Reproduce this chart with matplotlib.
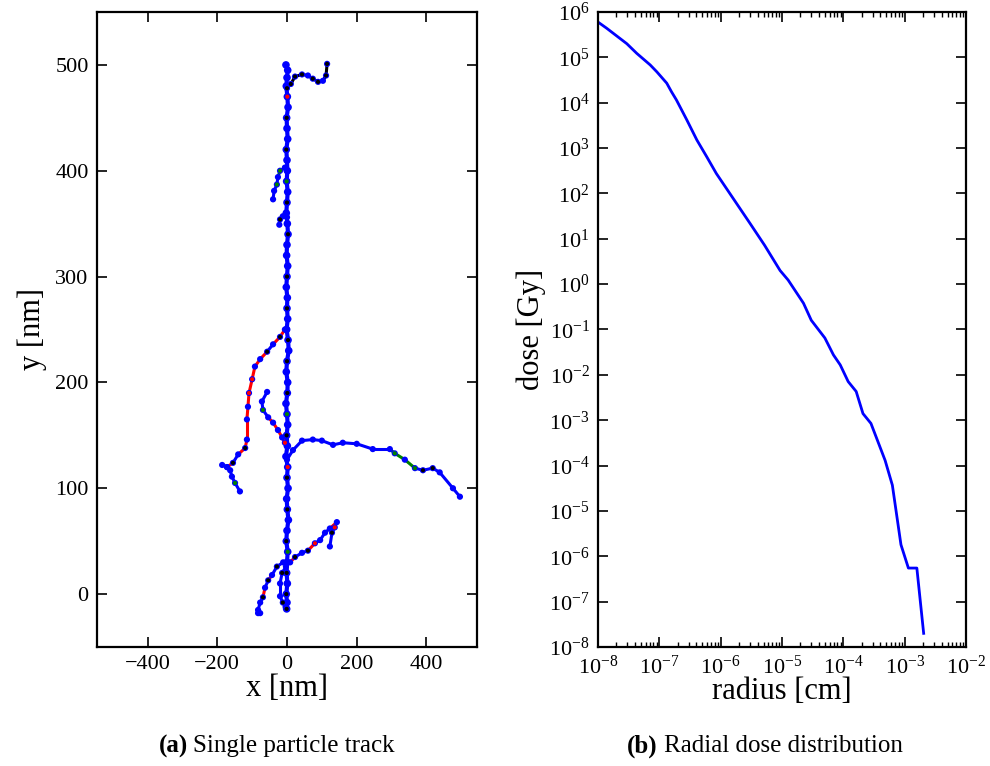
import matplotlib
matplotlib.use("Agg")
import matplotlib.pyplot as plt
from matplotlib.ticker import LogLocator, NullLocator, FixedLocator

plt.rcParams['font.family'] = 'serif'
plt.rcParams['font.serif'] = ['Liberation Serif', 'DejaVu Serif']
plt.rcParams['mathtext.fontset'] = 'custom'
plt.rcParams['mathtext.rm'] = 'Liberation Serif'
plt.rcParams['mathtext.it'] = 'Liberation Serif:italic'
plt.rcParams['mathtext.bf'] = 'Liberation Serif:bold'

# ---------------- data: (a) single particle track (nm) ----------------
main_x = [-3, 2, 0, -2, 1, 3, -1, 0, 2, -2, 0, 1, -1, 2, 0, -2, 1, 3, 0, -1,
          2, 0, -2, 1, 0, 2, -1, 3, 5, 0, -2, 2, 1, -3, 0, 2, -1, 1, -3, 2,
          0, 3, -1, 1, 4, 0, -2, 2, 0, -1, 1, -2, 0, -1]
main_y = [500, 495, 488, 480, 470, 460, 450, 440, 430, 420, 410, 400, 390, 380,
          370, 360, 350, 340, 330, 320, 310, 300, 290, 280, 270, 260, 250, 240,
          230, 220, 210, 200, 190, 180, 170, 160, 150, 140, 130, 120, 110, 100,
          90, 80, 70, 60, 50, 40, 30, 20, 10, 0, -8, -14]
main_mk = "bbbbrbkbbkbbgbkbbkbbbkbbkbbkbkbbkbgbkbbrkbbkbbkgbkbkbk"
main_seg = "b" * 53

br1_x = [0, 11, 23, 43, 60, 74, 89, 103, 112, 115]
br1_y = [478, 482, 489, 491, 490, 487, 484, 485, 490, 501]
br1_seg = "kkkkkkkkk"
br1_mk = "kkkkbkkbkk"

br2_x = [-6, -20, -26, -29, -37, -40]
br2_y = [403, 400, 394, 387, 381, 373]
br2_seg = "ggbbb"
br2_mk = "bgbgbb"

br3_x = [0, -12, -20, -22]
br3_y = [356, 357, 354, 349]
br3_seg = "bbb"
br3_mk = "bbkb"

br4_x = [-6, -20, -40, -57, -77, -92, -100, -109, -112, -115, -115, -120, -140,
         -155, -172, -186]
br4_y = [250, 243, 236, 229, 222, 215, 203, 190, 177, 165, 146, 138, 132, 124,
         120, 122]
br4_seg = "rrbrrrrrrrrrbrb"
br4_mk = "bkbkbbrrbbbkbkbb"

br5_x = [-172, -163, -158, -149, -135]
br5_y = [120, 117, 111, 105, 97]
br5_seg = "bbbb"
br5_mk = "bbbgb"

br6_x = [-57, -72, -69, -54, -40, -26, -14, -6]
br6_y = [191, 182, 174, 167, 162, 155, 148, 143]
br6_seg = "bbbrrrr"
br6_mk = "bbgbbbbr"

br7_x = [0, 17, 43, 74, 100, 132, 160, 200, 246, 295, 309, 338, 367, 390, 418,
         438, 476, 496]
br7_y = [127, 136, 145, 146, 145, 141, 143, 142, 137, 137, 133, 127, 119, 117,
         119, 115, 100, 92]
br7_seg = "bbbbbbbbbgggbbbbb"
br7_mk = "bbbbbbbbbbgbgkkbbb"

br8_x = [9, 23, 43, 60, 80, 95, 109, 123, 143, 137, 129, 123]
br8_y = [30, 35, 39, 41, 48, 51, 58, 62, 68, 63, 58, 45]
br8_seg = "rbbrbbbrrbb"
br8_mk = "bkbkrbbbbrkb"

br9_x = [-11, -29, -43, -54, -63, -69, -77, -83, -83, -77]
br9_y = [30, 26, 18, 13, 6, -3, -8, -15, -18, -18]
br9_seg = "bbrbrbbbb"
br9_mk = "bkbkbkbbbb"

br10_x = [-3, -14, -20, -20, -12, -4]
br10_y = [26, 20, 10, -2, -8, -12]
br10_seg = "bbbbb"
br10_mk = "bkbbkb"

branches = [
    (br1_x, br1_y, br1_seg, br1_mk), (br2_x, br2_y, br2_seg, br2_mk),
    (br3_x, br3_y, br3_seg, br3_mk), (br4_x, br4_y, br4_seg, br4_mk),
    (br5_x, br5_y, br5_seg, br5_mk), (br6_x, br6_y, br6_seg, br6_mk),
    (br7_x, br7_y, br7_seg, br7_mk), (br8_x, br8_y, br8_seg, br8_mk),
    (br9_x, br9_y, br9_seg, br9_mk), (br10_x, br10_y, br10_seg, br10_mk),
    (main_x, main_y, main_seg, main_mk),
]

# ---------------- data: (b) radial dose distribution ----------------
radius_cm = [1.0e-8, 1.38e-8, 2.95e-8, 4.27e-8, 7.1e-8, 9.1e-8, 1.32e-7,
             1.58e-7, 1.9e-7, 2.8e-7, 4.1e-7, 5.9e-7, 8.5e-7, 3.0e-6, 5.2e-6,
             9.3e-6, 1.26e-5, 2.24e-5, 3.0e-5, 5.0e-5, 6.9e-5, 8.9e-5, 1.2e-4,
             1.62e-4, 2.09e-4, 2.82e-4, 4.8e-4, 6.3e-4, 8.7e-4, 1.15e-3,
             1.58e-3, 2.04e-3]
dose_gy = [6.0e5, 4.4e5, 2.0e5, 1.23e5, 6.8e4, 4.8e4, 2.7e4, 1.74e4, 1.15e4,
           4.2e3, 1.5e3, 6.5e2, 2.75e2, 22, 7.2, 2.0, 1.23, 0.38, 0.16, 6.5e-2,
           2.75e-2, 1.66e-2, 7.1e-3, 4.3e-3, 1.4e-3, 8.5e-4, 1.3e-4, 3.7e-5,
           1.8e-6, 5.5e-7, 5.5e-7, 2.0e-8]

xticks_a = [-400, -200, 0, 200, 400]
yticks_a = [0, 100, 200, 300, 400, 500]

colors = {'b': '#0000ff', 'k': '#000000', 'r': '#ff0000', 'g': '#008000'}

fig = plt.figure(figsize=(9.9, 7.66), dpi=100)
ax1 = fig.add_axes([97/990, 1-647/766, 380/990, 635/766])
ax2 = fig.add_axes([598/990, 1-647/766, 368/990, 635/766])

for bx, by, seg, mk in branches:
    main = bx is main_x
    for i in range(len(bx) - 1):
        ax1.plot(bx[i:i+2], by[i:i+2], color=colors[seg[i]],
                 lw=3.0 if main else 2.2, solid_capstyle='round', zorder=2)
for bx, by, seg, mk in branches:
    main = bx is main_x
    ax1.scatter(bx, by, s=30 if main else 20, c=colors['b'],
                edgecolors='none', zorder=3)
for bx, by, seg, mk in branches:
    ox = [x for x, c in zip(bx, mk) if c != 'b']
    oy = [y for y, c in zip(by, mk) if c != 'b']
    oc = [colors[c] for c in mk if c != 'b']
    ax1.scatter(ox, oy, s=9, c=oc, edgecolors='none', zorder=4)

ax1.set_xlim(-545, 545)
ax1.set_ylim(-50, 550)
ax1.xaxis.set_major_locator(FixedLocator(xticks_a))
ax1.yaxis.set_major_locator(FixedLocator(yticks_a))
ax1.set_xlabel('x [nm]', fontsize=22, labelpad=0)
ax1.set_ylabel('y [nm]', fontsize=22, labelpad=6)

ax2.loglog(radius_cm, dose_gy, color='#0000ff', lw=2.0)
ax2.set_xlim(1e-8, 1e-2)
ax2.set_ylim(1e-8, 1e6)
ax2.xaxis.set_major_locator(LogLocator(base=10, numticks=20))
ax2.xaxis.set_minor_locator(LogLocator(base=10, subs=range(2, 10), numticks=20))
ax2.yaxis.set_major_locator(LogLocator(base=10, numticks=30))
ax2.yaxis.set_minor_locator(NullLocator())
ax2.set_xlabel('radius [cm]', fontsize=22, labelpad=-1)
ax2.set_ylabel('dose [Gy]', fontsize=22, labelpad=2)

for ax in (ax1, ax2):
    for sp in ax.spines.values():
        sp.set_linewidth(1.6)
    ax.tick_params(which='major', direction='in', length=7, width=1.2,
                   top=True, right=True, labelsize=16, pad=6)
    ax.tick_params(which='minor', direction='in', length=3.5, width=1.0,
                   top=True, right=True)

cap_y = 1 - 746/766
fig.text(188/990, cap_y, '(a)', fontsize=18, fontweight='bold',
         ha='right', va='center')
fig.text(193/990, cap_y, 'Single particle track', fontsize=18,
         ha='left', va='center')
fig.text(658/990, cap_y, '(b)', fontsize=18, fontweight='bold',
         ha='right', va='center')
fig.text(664/990, cap_y, 'Radial dose distribution', fontsize=18,
         ha='left', va='center')

fig.savefig('out.png', dpi=100)
